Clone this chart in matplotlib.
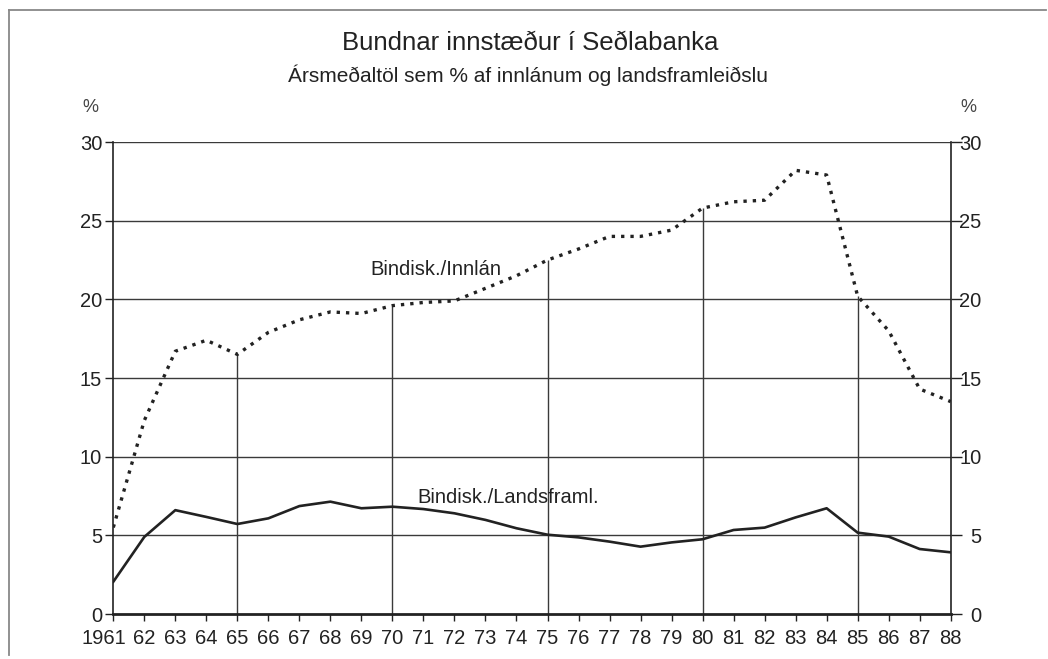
import numpy as np
import matplotlib
matplotlib.use("Agg")
import matplotlib.pyplot as plt
from matplotlib.lines import Line2D

plt.rcParams['font.family'] = ['Liberation Sans', 'DejaVu Sans']

years = list(range(1961, 1989))
year_labels = ['1961'] + [str(y)[2:] for y in years[1:]]

# Bindisk./Innlán (%)
innlan = [5.5, 12.3, 16.7, 17.4, 16.5, 17.9, 18.7, 19.2, 19.1, 19.6,
          19.8, 19.9, 20.7, 21.5, 22.5, 23.2, 24.0, 24.0, 24.4, 25.8,
          26.2, 26.3, 28.2, 27.9, 20.2, 18.0, 14.3, 13.5]
# Bindisk./Landsframl. (%)
landsframl = [2.05, 4.9, 6.6, 6.17, 5.72, 6.08, 6.86, 7.14, 6.72, 6.82,
              6.67, 6.4, 5.98, 5.45, 5.04, 4.87, 4.6, 4.28, 4.55, 4.75,
              5.34, 5.49, 6.14, 6.72, 5.17, 4.92, 4.13, 3.92]

yticks = [0, 5, 10, 15, 20, 25, 30]
vgrid_years = [1965, 1970, 1975, 1980, 1985]

title = "Bundnar innstæður í Seðlabanka"
subtitle = "Ársmeðaltöl sem % af innlánum og landsframleiðslu"

W, H = 1048, 659
fig = plt.figure(figsize=(W / 100, H / 100), dpi=100)
ax = fig.add_axes([113.3 / W, 1 - 614 / H, (950.7 - 113.3) / W, (614 - 142) / H])

ink = '#222222'
for v in yticks[1:]:
    ax.axhline(v, color='#3a3a3a', lw=1.0, zorder=1)
# vertical guides run from the axis up to the dotted series
for yr in vgrid_years:
    ax.vlines(yr, 0, innlan[years.index(yr)], color='#3a3a3a', lw=1.0, zorder=1)

ax.plot(years, innlan, color=ink, lw=2.4, linestyle=(0, (1, 1.8)), zorder=3)
ax.plot(years, landsframl, color=ink, lw=1.9, zorder=3)

ax.text(1969.3, 21.9, "Bindisk./Innlán", fontsize=14.5, color=ink, va='center', ha='left')
ax.text(1970.8, 7.4, "Bindisk./Landsframl.", fontsize=14.5, color=ink, va='center', ha='left')

ax.set_xlim(1961, 1988)
ax.set_ylim(0, 30)
ax.set_xticks(years)
# "1961" is drawn separately, a little left of its tick
ax.set_xticklabels([''] + year_labels[1:])
ax.annotate(year_labels[0], xy=(years[0], 0), xycoords=('data', 'axes fraction'),
            xytext=(-7, -11), textcoords='offset points', ha='center', va='top',
            fontsize=14.5, color=ink)
ax.set_yticks(yticks)
ax.tick_params(axis='x', labelsize=14.5, colors=ink, length=5, width=1.0, pad=6)
ax.tick_params(axis='y', labelsize=14.5, colors=ink, width=1.0, length=6, pad=2,
               left=True, right=True, labelleft=True, labelright=False)
for t in ax.yaxis.get_major_ticks():
    t.tick2line.set_markersize(8)
# right-hand labels are right aligned
for v in yticks:
    ax.annotate(str(v), xy=(1, v), xycoords=('axes fraction', 'data'),
                xytext=(22, 0), textcoords='offset points', ha='right',
                va='center_baseline', fontsize=14.5, color=ink)

for side in ['left', 'right']:
    ax.spines[side].set_color(ink)
    ax.spines[side].set_linewidth(1.2)
ax.spines['bottom'].set_color(ink)
ax.spines['bottom'].set_linewidth(2.0)
ax.spines['top'].set_visible(False)

fig.text(530 / W, 1 - 43 / H, title, fontsize=18.5, color=ink, ha='center', va='center')
fig.text(528 / W, 1 - 75 / H, subtitle, fontsize=15, color=ink, ha='center', va='center')
fig.text(90 / W, 1 - 108 / H, "%", fontsize=13, color='#444444', ha='center', va='center')
fig.text(968 / W, 1 - 108 / H, "%", fontsize=13, color='#444444', ha='center', va='center')

# page frame
fig.add_artist(Line2D([9 / W, 9 / W], [1 - 10 / H, 1 - 655 / H], color='#888888', lw=1.3))
fig.add_artist(Line2D([9 / W, 1046 / W], [1 - 10 / H, 1 - 10 / H], color='#888888', lw=1.3))

fig.savefig("out.png", dpi=100)
